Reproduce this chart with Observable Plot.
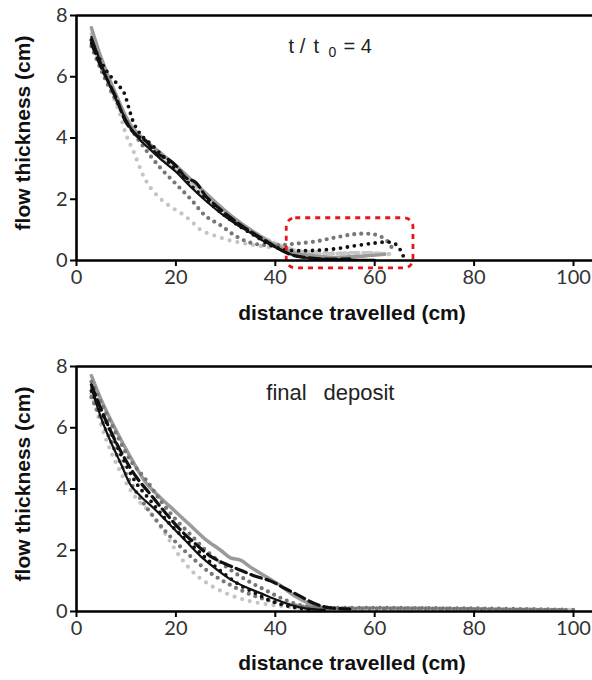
<!DOCTYPE html>
<html><head><meta charset="utf-8">
<script src="https://cdn.jsdelivr.net/npm/d3@7"></script>
<script src="https://cdn.jsdelivr.net/npm/@observablehq/plot@0.6"></script>
<style>body{margin:0;background:#fff} #chart svg{display:block}</style>
</head><body><div id="chart"></div>
<script>
// ---------- axis ticks / labels ----------
const xTicks = [0, 20, 40, 60, 80, 100];
const yTicks = [0, 2, 4, 6, 8];
const xLabel = "distance travelled (cm)";
const yLabel = "flow thickness (cm)";

// ---------- top panel (t / t0 = 4) : [distance, thickness] ----------
const topBlackSolid = [[3,7.3],[5,6.4],[7,5.6],[9,4.9],[11,4.3],[13,3.9],[15,3.6],[17,3.3],[20,2.9],[23,2.4],[26,1.95],[29,1.55],[32,1.2],[35,0.9],[38,0.6],[41,0.35],[44,0.15],[47,0.08],[50,0.05],[55,0.03],[60,0.02]];
const topBlackDash = [[3,7.1],[5,6.3],[8,5.3],[10,4.5],[12,4.1],[14,3.9],[16,3.5],[18,3.35],[20,3.1],[22,2.7],[24,2.55],[26,2.1],[28,1.8],[31,1.4],[34,1.05],[37,0.75],[40,0.45],[43,0.2],[46,0.1],[50,0.05],[55,0.05]];
const topBlackDot = [[3,7.2],[4,6.8],[6,6.2],[8,5.8],[9.5,5.5],[10.5,5.0],[11.5,4.5],[13,4.1],[15,3.8],[18,3.3],[21,2.8],[24,2.3],[27,1.85],[30,1.45],[33,1.1],[36,0.8],[39,0.5],[42,0.35],[45,0.32],[48,0.33],[52,0.38],[56,0.48],[60,0.57],[63,0.6],[64.5,0.5],[65.3,0.3],[66,0.05]];
const topGrayDot = [[3,7.0],[5,6.2],[8,5.2],[11,4.3],[14,3.6],[17,3.0],[20,2.5],[23,2.0],[26,1.45],[29,1.15],[32,0.8],[35,0.58],[38,0.5],[41,0.5],[44,0.55],[48,0.62],[52,0.75],[56,0.86],[59,0.87],[61,0.8],[62.6,0.62],[63.5,0.4]];
const topLightDot = [[3,7.2],[5,6.3],[7,5.5],[8.5,4.9],[10,4.1],[11.5,3.55],[13.5,2.75],[15,2.35],[17,2.0],[19,1.75],[21,1.55],[23,1.3],[25,1.0],[28,0.8],[31,0.65],[34,0.55],[37,0.47],[41,0.4],[45,0.3],[50,0.25],[55,0.22],[60,0.22],[63,0.2]];
const topGraySolid = [[3,7.6],[5,6.6],[8,5.4],[11,4.4],[14,3.9],[17,3.5],[20,3.1],[24,2.5],[28,1.9],[32,1.35],[36,0.9],[40,0.5],[44,0.25],[48,0.15],[52,0.1],[58,0.15],[62,0.2]];
const topLightDash = [[3,7.4],[6,6.1],[9,5.0],[12,4.1],[15,3.6],[18,3.2],[21,2.8],[25,2.2],[29,1.7],[33,1.2],[37,0.8],[41,0.5],[45,0.3],[50,0.22],[55,0.25],[60,0.25],[63,0.22]];
const topBox = [{x1: 42.3, x2: 67.8, y1: -0.26, y2: 1.38}];

// ---------- bottom panel (final deposit) ----------
const botBlackSolid = [[3,7.3],[5,6.3],[7,5.5],[9,4.8],[11,4.1],[13,3.75],[16,3.3],[19,2.8],[22,2.3],[25,1.8],[28,1.4],[31,1.05],[34,0.8],[37,0.6],[40,0.4],[43,0.22],[46,0.1],[50,0.05]];
const botBlackDash = [[3,7.4],[6,6.2],[9,5.2],[12,4.4],[15,3.8],[18,3.2],[21,2.65],[24,2.2],[27,1.8],[30,1.55],[33,1.35],[36,1.15],[39,1.0],[42,0.75],[45,0.5],[48,0.25],[51,0.12],[55,0.08]];
const botGraySolid = [[3,7.7],[5,6.9],[8,5.9],[11,5.0],[14,4.2],[17,3.7],[20,3.25],[23,2.8],[26,2.35],[29,2.0],[31,1.75],[33,1.68],[35,1.45],[38,1.15],[41,0.85],[44,0.5],[47,0.25],[50,0.1]];
const botDarkDot = [[3,7.5],[5,6.8],[8,5.8],[11,4.9],[14,4.3],[17,3.6],[20,3.0],[23,2.5],[26,2.0],[29,1.6],[32,1.25],[35,0.95],[38,0.7],[41,0.45],[44,0.25],[47,0.15],[50,0.12],[55,0.1],[60,0.1],[70,0.1],[80,0.08],[90,0.06],[100,0.05]];
const botBlackDot = [[3,7.2],[6,6.2],[9,5.1],[12,4.2],[15,3.6],[18,3.0],[21,2.5],[24,2.05],[27,1.6],[30,1.2],[33,0.85],[36,0.6],[39,0.35],[42,0.2],[45,0.1],[48,0.05]];
const botGrayDot = [[3,7.0],[6,5.9],[9,4.8],[12,3.9],[15,3.2],[18,2.6],[21,2.1],[24,1.65],[27,1.25],[30,0.95],[33,0.7],[36,0.5],[39,0.35],[42,0.25],[46,0.15],[50,0.12],[60,0.12],[70,0.11],[80,0.1],[90,0.08],[98,0.06]];
const botLightDot = [[3,7.1],[6,5.6],[9,4.5],[12,3.7],[15,3.2],[18,2.5],[21,1.75],[24,1.2],[27,0.85],[30,0.6],[33,0.42],[36,0.3],[40,0.2],[45,0.12],[50,0.1],[60,0.09],[70,0.08],[80,0.07],[90,0.06],[100,0.05]];

// ---------- styles ----------
const S = {
  blackSolid: {stroke: "#111", strokeWidth: 2.2},
  blackDash:  {stroke: "#111", strokeWidth: 3.2, strokeDasharray: "11,5"},
  blackDot:   {stroke: "#111", strokeWidth: 3.8, strokeDasharray: "0,7", strokeLinecap: "round"},
  grayDot:    {stroke: "#777", strokeWidth: 4.2, strokeDasharray: "0,7", strokeLinecap: "round"},
  lightDot:   {stroke: "#c4c4c4", strokeWidth: 4.2, strokeDasharray: "0,8", strokeLinecap: "round"},
  graySolid:  {stroke: "#9a9a9a", strokeWidth: 3.5},
  lightDash:  {stroke: "#c8c8c8", strokeWidth: 3.5, strokeDasharray: "9,4"}
};

const line = (data, style) => Plot.line(data, {x: d => d[0], y: d => d[1], curve: "catmull-rom", ...style});
const note = {textAnchor: "start", fontFamily: "Liberation Sans", fill: "#222"};

function frameMarks(labelDy) {
  return [
    Plot.axisX({ticks: xTicks, tickSize: 6, tickPadding: 3, strokeWidth: 2, fontSize: 20, fontFamily: "Lato", color: "#333", label: null, stroke: "#000"}),
    Plot.axisY({ticks: yTicks, tickSize: 6, tickPadding: 3, strokeWidth: 2, fontSize: 20, fontFamily: "Lato", color: "#333", label: null, stroke: "#000"}),
    Plot.ruleY([0], {x1: 0, x2: 104, stroke: "#000", strokeWidth: 2.6}),
    Plot.ruleY([8], {x1: 0, x2: 104, stroke: "#000", strokeWidth: 2.6}),
    Plot.ruleX([0], {y1: 0, y2: 8, stroke: "#000", strokeWidth: 2.6}),
    Plot.text([yLabel], {frameAnchor: "left", textAnchor: "middle", lineAnchor: "middle", rotate: -90, dx: -53, dy: -5, fontWeight: "bold", fontSize: 21, fontFamily: "Liberation Sans", fill: "#111"}),
    Plot.text([xLabel], {frameAnchor: "bottom", textAnchor: "middle", lineAnchor: "middle", dx: 27, dy: labelDy, fontWeight: "bold", fontSize: 21, fontFamily: "Liberation Sans", fill: "#111"})
  ];
}

const common = {width: 592, marginLeft: 76, marginRight: 19,
  x: {domain: [0, 100]}, y: {domain: [0, 8]},
  style: {background: "white", fontFamily: "Lato", overflow: "visible"}};

const topPanel = Plot.plot({...common, height: 350, marginTop: 15, marginBottom: 90,
  marks: [
    line(topLightDot, S.lightDot),
    line(topLightDash, S.lightDash),
    line(topGraySolid, S.graySolid),
    line(topGrayDot, S.grayDot),
    line(topBlackSolid, S.blackSolid),
    line(topBlackDash, S.blackDash),
    line(topBlackDot, S.blackDot),
    Plot.rect(topBox, {x1: "x1", x2: "x2", y1: "y1", y2: "y2", rx: 9, fill: "none", stroke: "#e8141b", strokeWidth: 2.8, strokeDasharray: "5,5"}),
    Plot.text(["t /"], {...note, x: 42.66, y: 7.0, fontSize: 20}),
    Plot.text(["t"], {...note, x: 47.7, y: 7.0, fontSize: 20}),
    Plot.text(["0"], {...note, x: 50.7, y: 6.78, fontSize: 14}),
    Plot.text(["= 4"], {...note, x: 53.7, y: 7.0, fontSize: 20}),
    ...frameMarks(53)
  ]});

const bottomPanel = Plot.plot({...common, height: 330, marginTop: 16, marginBottom: 69,
  marks: [
    line(botLightDot, S.lightDot),
    line(botGraySolid, S.graySolid),
    line(botGrayDot, S.grayDot),
    line(botDarkDot, S.grayDot),
    line(botBlackSolid, S.blackSolid),
    line(botBlackDot, S.blackDot),
    line(botBlackDash, S.blackDash),
    Plot.text(["final"], {...note, x: 38.2, y: 7.12, fontSize: 22}),
    Plot.text(["deposit"], {...note, x: 49.7, y: 7.12, fontSize: 22}),
    ...frameMarks(52)
  ]});

document.getElementById("chart").append(topPanel, bottomPanel);
</script>
</body></html>
